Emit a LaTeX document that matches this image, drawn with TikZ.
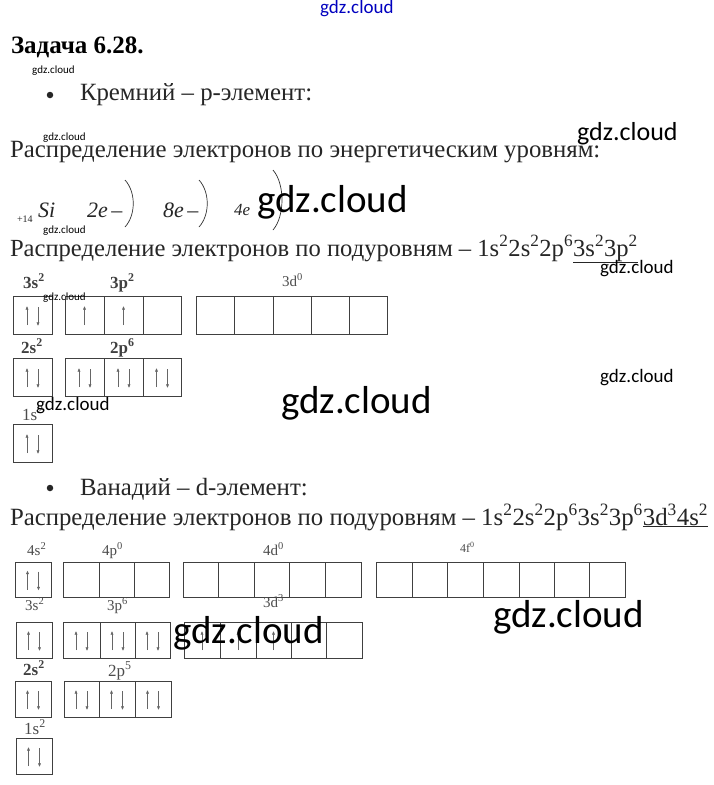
\documentclass[tikz,border=0pt]{standalone}
\usepackage{fontspec}
\setmainfont{Liberation Serif}
\newfontfamily\wmfont{Carlito}
\usetikzlibrary{arrows.meta,calc}
\newcommand\fs[1]{\fontsize{#1}{#1}\selectfont}
\newcommand\sps[1]{\textsuperscript{#1}}
\tikzset{
  txt/.style={anchor=base west, inner sep=0pt, outer sep=0pt, text=black!85},
  lblb/.style={anchor=base west, inner sep=0pt, font=\bfseries\fs{17}, text=black!75},
  lblr/.style={anchor=base west, inner sep=0pt, font=\fs{15}, text=black!70},
  wm/.style={anchor=base west, inner sep=0pt, font=\wmfont, text=black},
  orb/.style={draw=black!75, line width=0.9pt, rectangle, inner sep=0pt, outer sep=0pt},
  el/.style={draw=black!60, line width=0.6pt, -{Latex[length=3.6pt,width=3.2pt]}},
  brk/.style={draw=black!80, line width=0.7pt},
  bul/.style={circle, fill=black!85, inner sep=0pt, minimum size=6.5pt}
}
\newcommand\orbx[5]{\node[orb, minimum width={(#4)-(#2)}, minimum height={(#5)-(#3)}] (#1) at ({((#2)+(#4))/2},{((#3)+(#5))/2}) {};}
\newcommand\myup[2]{\draw[el] ($(#1.center)+(#2,10)$) -- ($(#1.center)+(#2,-9)$);}
\newcommand\mydn[2]{\draw[el] ($(#1.center)+(#2,-8)$) -- ($(#1.center)+(#2,11)$);}
\newcommand\mypair[1]{\myup{#1}{-5.5}\mydn{#1}{5.5}}
\begin{document}
\begin{tikzpicture}[x=1pt,y=-1pt]
\fill[white] (0,0) rectangle (714,785);
\useasboundingbox (0,0) rectangle (714,785);

% ---------- header ----------
\node[txt, font=\bfseries\fs{25}, text=black] (title) at (11,53) {Задача 6.28.};
\node[bul] (b1) at (50,95) {};
\node[txt, font=\fs{24.8}] (si) at (80,100) {Кремний – p-элемент:};
\node[txt, font=\fs{24.8}] (lev) at (10,157) {Распределение электронов по энергетическим уровням:};

% shells
\node[txt, font=\fs{10}] (z14) at (17,222) {+14};
\node[txt, font=\itshape\fs{22}] (sisym) at (38,217) {Si};
\node[txt, font=\fs{22}] (e2) at (87,217) {\itshape 2e\upshape\,–};
\node[txt, font=\fs{22}] (e8) at (163,217) {\itshape 8e\upshape\,–};
\node[txt, font=\fs{17}] (e4) at (234,215) {\itshape 4e};
\draw[brk] (125,180) .. controls (136,192) and (136,215) .. (125,227);
\draw[brk] (199,180) .. controls (210,192) and (210,215) .. (199,227);
\draw[brk] (273,170) .. controls (285,184) and (285,216) .. (273,230);

\node[txt, font=\fs{24.6}] (sub1) at (10,256) {Распределение электронов по подуровням – 1s\sps{2}2s\sps{2}2p\sps{6}\underline{3s\sps{2}3p\sps{2}}};

% ---------- Si orbitals ----------
\node[lblb] (l3s) at (23,288) {3s\sps{2}};
\node[lblb] (l3p) at (110,288) {3p\sps{2}};
\node[lblr] (l3d) at (282,286) {3d\sps{0}};
\orbx{a3s}{13}{296}{52}{334}
\orbx{a3pa}{65}{296}{104}{334}
\orbx{a3pb}{104}{296}{143}{334}
\orbx{a3pc}{143}{296}{181}{334}
\orbx{a3da}{196}{296}{234}{334}
\orbx{a3db}{234}{296}{273}{334}
\orbx{a3dc}{273}{296}{311}{334}
\orbx{a3dd}{311}{296}{349}{334}
\orbx{a3de}{349}{296}{387}{334}
\mypair{a3s}
\myup{a3pa}{0}
\myup{a3pb}{0}

\node[lblb] (l2s) at (21,353) {2s\sps{2}};
\node[lblb] (l2p) at (110,353) {2p\sps{6}};
\orbx{a2s}{13}{358}{52}{396}
\orbx{a2pa}{65}{358}{104}{396}
\orbx{a2pb}{104}{358}{143}{396}
\orbx{a2pc}{143}{358}{181}{396}
\mypair{a2s}\mypair{a2pa}\mypair{a2pb}\mypair{a2pc}

\node[lblr, font=\fs{17}] (l1s) at (22,420) {1s\sps{2}};
\orbx{a1s}{13}{424}{52}{462}
\mypair{a1s}

% ---------- Vanadium ----------
\node[bul] (b2) at (50,488) {};
\node[txt, font=\fs{24.8}] (v) at (80,495) {Ванадий – d-элемент:};
\node[txt, font=\fs{24.8}] (sub2) at (10,525) {Распределение электронов по подуровням – 1s\sps{2}2s\sps{2}2p\sps{6}3s\sps{2}3p\sps{6}\underline{3d\sps{3}4s\sps{2}}};

\node[lblr] (v4s) at (27,555) {4s\sps{2}};
\node[lblr] (v4p) at (102,555) {4p\sps{0}};
\node[lblr] (v4d) at (263,555) {4d\sps{0}};
\node[lblr, font=\fs{12}] (v4f) at (460,552) {4f\sps{0}};
\orbx{b4s}{15}{562}{51}{597}
\orbx{b4pa}{63}{562}{99}{597}
\orbx{b4pb}{99}{562}{134}{597}
\orbx{b4pc}{134}{562}{169}{597}
\orbx{b4da}{183}{562}{218}{597}
\orbx{b4db}{218}{562}{254}{597}
\orbx{b4dc}{254}{562}{289}{597}
\orbx{b4dd}{289}{562}{325}{597}
\orbx{b4de}{325}{562}{361}{597}
\orbx{b4fa}{376}{562}{412}{597}
\orbx{b4fb}{412}{562}{447}{597}
\orbx{b4fc}{447}{562}{483}{597}
\orbx{b4fd}{483}{562}{519}{597}
\orbx{b4fe}{519}{562}{554}{597}
\orbx{b4ff}{554}{562}{589}{597}
\orbx{b4fg}{589}{562}{625}{597}
\mypair{b4s}

\node[lblr] (v3s) at (25,610) {3s\sps{2}};
\node[lblr] (v3p) at (107,610) {3p\sps{6}};
\node[lblr] (v3d) at (263,607) {3d\sps{3}};
\orbx{b3s}{16}{622}{52}{658}
\orbx{b3pa}{63}{622}{100}{658}
\orbx{b3pb}{100}{622}{135}{658}
\orbx{b3pc}{135}{622}{170}{658}
\orbx{b3da}{184}{622}{220}{658}
\orbx{b3db}{220}{622}{256}{658}
\orbx{b3dc}{256}{622}{291}{658}
\orbx{b3dd}{291}{622}{326}{658}
\orbx{b3de}{326}{622}{362}{658}
\mypair{b3s}\mypair{b3pa}\mypair{b3pb}\mypair{b3pc}
\myup{b3da}{0}\myup{b3db}{0}\myup{b3dc}{0}

\node[lblb] (v2s) at (23,675) {2s\sps{2}};
\node[lblr, font=\fs{17}] (v2p) at (108,676) {2p\sps{5}};
\orbx{b2s}{15}{681}{51}{717}
\orbx{b2pa}{64}{681}{99}{717}
\orbx{b2pb}{99}{681}{135}{717}
\orbx{b2pc}{135}{681}{171}{717}
\mypair{b2s}\mypair{b2pa}\mypair{b2pb}\mypair{b2pc}

\node[lblr, font=\fs{17}] (v1s) at (24,734) {1s\sps{2}};
\orbx{b1s}{16}{738}{52}{774}
\mypair{b1s}

% ---------- watermarks ----------
\node[wm, font=\wmfont\fs{19}, text=blue!75!black] (w0) at (320,13) {gdz.cloud};
\node[wm, font=\wmfont\fs{11}] (w1) at (32,73) {gdz.cloud};
\node[wm, font=\wmfont\fs{11}] (w2) at (43,140) {gdz.cloud};
\node[wm, font=\wmfont\fs{26}] (w3) at (577,140) {gdz.cloud};
\node[wm, font=\wmfont\fs{39}] (w4) at (257,212) {gdz.cloud};
\node[wm, font=\wmfont\fs{11}] (w5) at (43,233) {gdz.cloud};
\node[wm, font=\wmfont\fs{19}] (w6) at (600,273) {gdz.cloud};
\node[wm, font=\wmfont\fs{11}] (w7) at (43,300) {gdz.cloud};
\node[wm, font=\wmfont\fs{19}] (w8) at (600,382) {gdz.cloud};
\node[wm, font=\wmfont\fs{19}] (w9) at (36,410) {gdz.cloud};
\node[wm, font=\wmfont\fs{39}] (w10) at (281,413) {gdz.cloud};
\node[wm, font=\wmfont\fs{39}] (w11) at (173,643) {gdz.cloud};
\node[wm, font=\wmfont\fs{39}] (w12) at (493,627) {gdz.cloud};
\end{tikzpicture}
\end{document}
